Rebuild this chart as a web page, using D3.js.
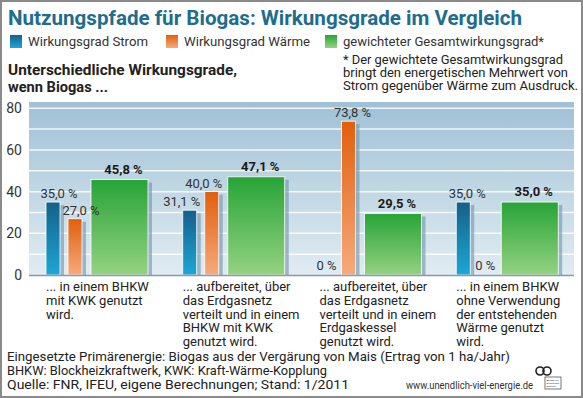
<!DOCTYPE html>
<html>
<head>
<meta charset="utf-8">
<script src="https://cdn.jsdelivr.net/npm/d3@7"></script>
<style>
  body { margin: 0; background: #fff; }
  svg { display: block; font-family: Roboto, "Liberation Sans", sans-serif; }
</style>
</head>
<body>
<svg id="chart" width="583" height="398"></svg>
<script>
// --- data ---
const categories = ["bhkw_kwk", "netz_bhkw_kwk", "netz_kessel", "bhkw_ohne"];
const categoryLines = [
  ["... in einem BHKW", "mit KWK genutzt", "wird."],
  ["... aufbereitet, über", "das Erdgasnetz", "verteilt und in einem", "BHKW mit KWK", "genutzt wird."],
  ["... aufbereitet, über", "das Erdgasnetz", "verteilt und in einem", "Erdgaskessel", "genutzt wird."],
  ["... in einem BHKW", "ohne Verwendung", "der entstehenden", "Wärme genutzt", "wird."]
];
const strom  = [35.0, 31.1, 0, 35.0];
const waerme = [27.0, 40.0, 73.8, 0];
const gesamt = [45.8, 47.1, 29.5, 35.0];
const seriesKeys = ["strom", "waerme", "gesamt"];
const seriesNames = ["Wirkungsgrad Strom", "Wirkungsgrad Wärme", "gewichteter Gesamtwirkungsgrad*"];
const yTicks = [0, 20, 40, 60, 80];
const gridValues = [10, 20, 30, 40, 50, 60, 70, 80];

const title = "Nutzungspfade für Biogas: Wirkungsgrade im Vergleich";
const subtitle = ["Unterschiedliche Wirkungsgrade,", "wenn Biogas ..."];
const note = ["* Der gewichtete Gesamtwirkungsgrad", "bringt den energetischen Mehrwert von", "Strom gegenüber Wärme zum Ausdruck."];
const footer = [
  "Eingesetzte Primärenergie: Biogas aus der Vergärung von Mais (Ertrag von 1 ha/Jahr)",
  "BHKW: Blockheizkraftwerk, KWK: Kraft-Wärme-Kopplung",
  "Quelle: FNR, IFEU, eigene Berechnungen; Stand: 1/2011"
];
const url = "www.unendlich-viel-energie.de";
const logoLines = ["Agentur für", "Erneuerbare", "Energien"];

const rows = categories.map((c, i) => ({cat: c, i, strom: strom[i], waerme: waerme[i], gesamt: gesamt[i]}));

// --- setup ---
const svg = d3.select("#chart");
const W = 583, H = 398;
const plot = {left: 29, right: 574, top: 102, bottom: 275};

const de = d3.formatLocale({decimal: ",", thousands: ".", grouping: [3], currency: ["", " €"]});
const fmt = v => v === 0 ? "0 %" : de.format(".1f")(v) + " %";

const x0 = d3.scaleBand().domain(categories).range([plot.left, plot.right + 2]).padding(0);
const offset = d3.scaleOrdinal().domain(seriesKeys).range([17, 39, 62]);
const barW = d3.scaleOrdinal().domain(seriesKeys).range([14, 14, 57]);
const y = d3.scaleLinear().domain([0, 83]).range([plot.bottom, plot.top]);

const colors = {
  strom:  ["#15608a", "#1ca7d6"],
  waerme: ["#e15f0c", "#f6aa7e"],
  gesamt: ["#27a437", "#95d282"]
};

const defs = svg.append("defs");
Object.entries(colors).forEach(([k, c]) => {
  const g = defs.append("linearGradient").attr("id", "grad-" + k)
    .attr("x1", 0).attr("y1", 0).attr("x2", 0).attr("y2", 1);
  g.append("stop").attr("offset", "0%").attr("stop-color", c[0]);
  g.append("stop").attr("offset", "100%").attr("stop-color", c[1]);
});
const bg = defs.append("linearGradient").attr("id", "grad-bg")
  .attr("x1", 0).attr("y1", 0).attr("x2", 0).attr("y2", 1);
bg.append("stop").attr("offset", "0%").attr("stop-color", "#9fc1d6");
bg.append("stop").attr("offset", "100%").attr("stop-color", "#e1ecf2");

// squeeze text to the width it has in the picture
const fit = (sel, w) => sel.attr("textLength", w).attr("lengthAdjust", "spacingAndGlyphs");

svg.append("rect").attr("width", W).attr("height", H).attr("fill", "#fff");

// title
fit(svg.append("text")
  .attr("x", 8).attr("y", 25)
  .attr("font-size", 21).attr("font-weight", "bold")
  .attr("fill", "#1d6d8e")
  .text(title), 514);

// legend
const legendX = [10, 166, 325];
const legendW = [120, 126, 201];
const legend = svg.append("g").selectAll("g")
  .data(seriesKeys)
  .join("g")
  .attr("transform", (d, i) => `translate(${legendX[i]},35)`);
legend.append("rect")
  .attr("width", 12).attr("height", 13)
  .attr("fill", d => `url(#grad-${d})`);
legend.each(function(d, i) {
  fit(d3.select(this).append("text")
    .attr("x", 18).attr("y", 11)
    .attr("font-size", 13.5).attr("fill", "#333")
    .text(seriesNames[i]), legendW[i]);
});

// subtitle
const subW = [229, 100];
subtitle.forEach((s, i) => {
  fit(svg.append("text")
    .attr("x", 8).attr("y", 75 + i * 17)
    .attr("font-size", 14).attr("font-weight", "bold").attr("fill", "#222")
    .text(s), subW[i]);
});

// note
const noteW = [220, 225, 235];
note.forEach((s, i) => {
  fit(svg.append("text")
    .attr("x", 343).attr("y", 64 + i * 13)
    .attr("font-size", 12).attr("fill", "#222")
    .text(s), noteW[i]);
});

// plot background + grid
svg.append("rect")
  .attr("x", plot.left).attr("y", plot.top)
  .attr("width", plot.right - plot.left).attr("height", plot.bottom - plot.top)
  .attr("fill", "url(#grad-bg)");

svg.append("g").selectAll("line")
  .data(gridValues)
  .join("line")
  .attr("x1", plot.left).attr("x2", plot.right)
  .attr("y1", d => y(d)).attr("y2", d => y(d))
  .attr("stroke", "#fff").attr("stroke-width", 1.5).attr("opacity", 0.85);

// y labels
svg.append("g").selectAll("text")
  .data(yTicks)
  .join("text")
  .attr("x", 22).attr("y", d => y(d))
  .attr("dy", "0.36em")
  .attr("text-anchor", "end")
  .attr("font-size", 14).attr("fill", "#333")
  .text(d => d);

// bars
const flat = rows.flatMap(r => seriesKeys.map(k => ({cat: r.cat, i: r.i, key: k, value: r[k]})));
const bx = d => x0(d.cat) + offset(d.key);

const bars = svg.append("g");
bars.selectAll("rect.shadow")
  .data(flat.filter(d => d.value > 0))
  .join("rect")
  .attr("class", "shadow")
  .attr("x", d => bx(d) + barW(d.key))
  .attr("y", d => y(d.value) + 3)
  .attr("width", 4)
  .attr("height", d => y(0) - y(d.value) - 3)
  .attr("fill", "#6f93ab").attr("opacity", 0.6);

bars.selectAll("rect.bar")
  .data(flat.filter(d => d.value > 0))
  .join("rect")
  .attr("class", "bar")
  .attr("x", bx)
  .attr("y", d => y(d.value))
  .attr("width", d => barW(d.key))
  .attr("height", d => y(0) - y(d.value))
  .attr("fill", d => `url(#grad-${d.key})`)
  .attr("stroke", "#fff").attr("stroke-width", 0.8);

// baseline
svg.append("line")
  .attr("x1", plot.left).attr("x2", plot.right)
  .attr("y1", y(0) + 0.5).attr("y2", y(0) + 0.5)
  .attr("stroke", "#7f9db0").attr("stroke-width", 1.5);

// value labels
const nudge = d => {
  if (d.value === 0) return 0;
  if (d.i === 1 && d.key !== "gesamt") return -8;
  if (d.i === 0 && d.key !== "gesamt") return 6;
  return 4;
};
svg.append("g").selectAll("text")
  .data(flat)
  .join("text")
  .attr("x", d => bx(d) + barW(d.key) / 2 + nudge(d))
  .attr("y", d => y(d.value) - (d.value === 0 ? 5 : d.key === "gesamt" ? 6 : 4))
  .attr("text-anchor", "middle")
  .attr("font-size", 13)
  .attr("font-weight", d => d.key === "gesamt" ? "bold" : "normal")
  .attr("fill", d => d.key === "gesamt" ? "#1a1a1a" : "#333")
  .text(d => fmt(d.value));

// category labels
const catG = svg.append("g").selectAll("text")
  .data(rows)
  .join("text")
  .attr("x", d => x0(d.cat) + offset("strom"))
  .attr("y", 291)
  .attr("font-size", 13).attr("fill", "#222");
catG.selectAll("tspan")
  .data(d => categoryLines[d.i].map(t => ({t, x: x0(d.cat) + offset("strom")})))
  .join("tspan")
  .attr("x", d => d.x)
  .attr("dy", (d, j) => j === 0 ? 0 : 13.8)
  .text(d => d.t);

// footer
const footW = [503, 320, 342];
footer.forEach((s, i) => {
  fit(svg.append("text")
    .attr("x", 7).attr("y", 361 + i * 14)
    .attr("font-size", 13).attr("fill", "#222")
    .text(s), footW[i]);
});

fit(svg.append("text")
  .attr("x", 406).attr("y", 389)
  .attr("font-size", 10.5).attr("fill", "#333")
  .text(url), 127);

// logo
const logo = svg.append("g").attr("transform", "translate(536,366)");
logo.append("circle").attr("cx", 4).attr("cy", 5).attr("r", 4)
  .attr("fill", "none").attr("stroke", "#222").attr("stroke-width", 1.6);
logo.append("circle").attr("cx", 11).attr("cy", 5).attr("r", 4)
  .attr("fill", "none").attr("stroke", "#222").attr("stroke-width", 1.6);
logo.append("rect").attr("x", 9).attr("y", 11).attr("width", 16).attr("height", 12)
  .attr("fill", "#fff").attr("stroke", "#555").attr("stroke-width", 0.8);
logoLines.forEach((t, i) => {
  logo.append("text").attr("x", 10.5).attr("y", 14.5 + i * 3.4)
    .attr("font-size", 2.4).attr("fill", "#333").text(t);
});

// frame
svg.append("rect")
  .attr("x", 1).attr("y", 1).attr("width", W - 2).attr("height", H - 2)
  .attr("fill", "none").attr("stroke", "#8a8a8a").attr("stroke-width", 2);
</script>
</body>
</html>
